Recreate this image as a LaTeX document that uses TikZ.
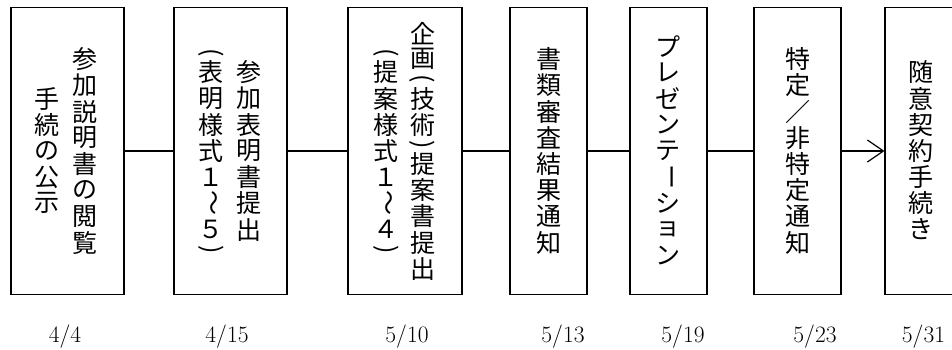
\documentclass[tikz,border=0pt]{standalone}
\usepackage{fontspec}
\usepackage{graphicx}
\newfontfamily\jp{Noto Sans CJK JP}
\usetikzlibrary{arrows.meta}
\XeTeXuseglyphmetrics=1
\newcommand\vc[2][26.2pt]{\hbox to 26.2pt{\hss\vbox to #1{\vss\hbox{#2}\vss}\hss}}
\newcommand\vlp{\vc[13.1pt]{\rotatebox{-90}{(}}}
\newcommand\vrp{\vc[13.1pt]{\rotatebox{-90}{)}}}
\newcommand\vwave{\vc{\rotatebox{-90}{～}}}
\newcommand\vchoon{\vc{\rotatebox{-90}{ー}}}
\newcommand\vsmallyo{\vc{\raisebox{0pt}{ョ}}}
\ExplSyntaxOn
\NewDocumentCommand\vcol{m}{\vbox{\offinterlineskip\tl_map_inline:nn{#1}{\token_if_cs:NTF ##1 {##1}{\vc{##1}}}}}
\ExplSyntaxOff
\begin{document}
\begin{tikzpicture}[x=1pt,y=-1pt,
  box/.style={draw, line width=1.1pt, minimum width=#1, minimum height=287pt, inner sep=0pt, anchor=center},
  col/.style={inner sep=0pt, anchor=center, font={\jp\fontsize{25pt}{26pt}\selectfont}},
  conn/.style={draw, line width=1.2pt},
  datelabel/.style={inner sep=0pt, anchor=base, font={\fontsize{23.5pt}{28pt}\selectfont}}]
\useasboundingbox (0,0) rectangle (952,349);
\clip (0,0) rectangle (952,349);
\node[box=113pt] (b1) at (67.5,151) {};
\node[box=113pt] (b2) at (230.5,151) {};
\node[box=114pt] (b3) at (405,151) {};
\node[box=77pt] (b4) at (548.5,151) {};
\node[box=77pt] (b5) at (668.5,151) {};
\node[box=87pt] (b6) at (797.5,151) {};
\node[box=113pt] (b7) at (941.5,151) {};
\node[col] (c1a) at (85,151) {\vcol{参加説明書の閲覧}};
\node[col] (c1b) at (47,151) {\vcol{手続の公示}};
\node[col] (c2a) at (248.5,151) {\vcol{参加表明書提出}};
\node[col] (c2b) at (211,151) {\vcol{\vlp 表明様式１\vwave ５\vrp}};
\node[col] (c3a) at (422.5,151) {\vcol{企画\vlp 技術\vrp 提案書提出}};
\node[col] (c3b) at (386,151) {\vcol{\vlp 提案様式１\vwave ４\vrp}};
\node[col] (c4) at (548.5,151) {\vcol{書類審査結果通知}};
\node[col] (c5) at (668,151) {\vcol{プレゼンテ\vchoon シ\vsmallyo ン}};
\node[col] (c6) at (798,151) {\vcol{特定／非特定通知}};
\node[col] (c7) at (921,151) {\vcol{随意契約手続き}};
\draw[conn] (b1) -- (b2);
\draw[conn] (b2) -- (b3);
\draw[conn] (b3) -- (b4);
\draw[conn] (b4) -- (b5);
\draw[conn] (b5) -- (b6);
\draw[conn, -{Straight Barb[length=16pt, width=22pt]}] (b6) -- (b7);
\node[datelabel] (d1) at (65,342) {4/4};
\node[datelabel] (d2) at (227,342) {4/15};
\node[datelabel] (d3) at (407,342) {5/10};
\node[datelabel] (d4) at (563,342) {5/13};
\node[datelabel] (d5) at (683,342) {5/19};
\node[datelabel] (d6) at (815,342) {5/23};
\node[datelabel] (d7) at (923.5,342) {5/31};
\end{tikzpicture}
\end{document}
